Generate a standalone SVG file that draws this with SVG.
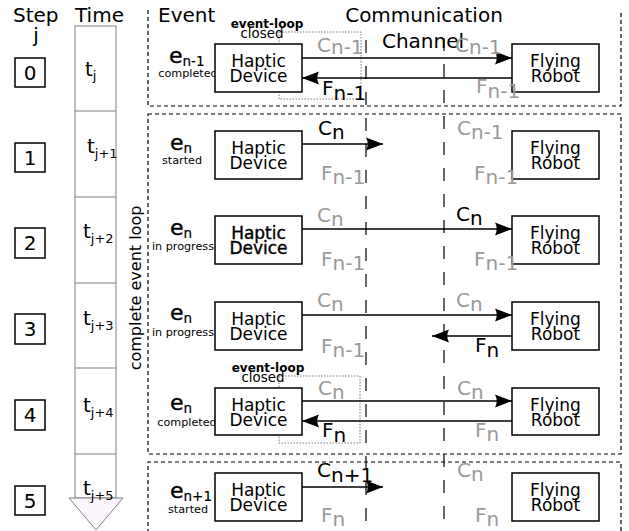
<svg xmlns="http://www.w3.org/2000/svg" width="629" height="531" viewBox="0 0 629 531">
<defs>
<style>
text{font-family:"DejaVu Sans","Liberation Sans",sans-serif;fill:#000}
.h{font-size:20px}
.lbl{font-size:20px}
.g{fill:#999}
.box{fill:#fff;stroke:#000;stroke-width:1.5}
.bt{font-size:17px;text-anchor:middle}
.ev{font-size:22px;stroke:#000;stroke-width:0.4}
.evs{font-size:13.5px;stroke-width:0.2}
.sm{font-size:11.2px;text-anchor:middle}
.tl{font-size:20px}
.tls{font-size:13px}
.frame{fill:none;stroke:#000;stroke-width:1.2;stroke-dasharray:4 3}
.chan{fill:none;stroke:#000;stroke-width:1.2;stroke-dasharray:13 13}
.arr{fill:none;stroke:#000;stroke-width:1.5;marker-end:url(#ah)}
.dot{fill:none;stroke:#777;stroke-width:1;stroke-dasharray:1.5 1.5}
.step{fill:#fff;stroke:#000;stroke-width:1.5}
</style>
<marker id="ah" markerUnits="userSpaceOnUse" markerWidth="20" markerHeight="16" viewBox="-18 -8 20 16" refX="0" refY="0" orient="auto">
<path d="M0,0 L-17,-6.5 Q-13.5,0 -17,6.5 Z" fill="#000"/>
</marker>
</defs>

<!-- headers -->
<g id="headers">
<text class="h" x="13" y="22">Step</text>
<text class="h" x="36" y="42" text-anchor="middle">j</text>
<text class="h" x="75" y="22">Time</text>
<text class="h" x="158" y="22">Event</text>
<text class="h" x="424" y="22" text-anchor="middle">Communication</text>
<text class="h" x="423" y="48" text-anchor="middle">Channel</text>
</g>

<!-- frames -->
<g id="frames">
<path class="frame" d="M148,10 V106 H621 V10"/>
<rect class="frame" x="148" y="114" width="473" height="340"/>
<path class="frame" d="M148,540 V462 H621 V540"/>
</g>

<!-- channel lines -->
<g id="channel">
<line class="chan" x1="366" y1="40" x2="366" y2="531"/>
<line class="chan" x1="444" y1="38" x2="444" y2="531"/>
</g>

<!-- time column -->
<g id="time">
<rect x="75" y="26" width="41" height="472" fill="#fff" stroke="#808080" stroke-width="1"/>
<g stroke="#808080" stroke-width="1">
<line x1="75" y1="111" x2="116" y2="111"/>
<line x1="75" y1="197" x2="116" y2="197"/>
<line x1="75" y1="283" x2="116" y2="283"/>
<line x1="75" y1="368" x2="116" y2="368"/>
<line x1="75" y1="454" x2="116" y2="454"/>
</g>
<polygon points="69,498 123,498 96,530" fill="#fdf5fc" stroke="#808080" stroke-width="1"/>
<text class="tl" x="85" y="76">t<tspan class="tls" dy="4">j</tspan></text>
<text class="tl" x="87" y="153">t<tspan class="tls" dy="5">j+1</tspan></text>
<text class="tl" x="83" y="238">t<tspan class="tls" dy="5">j+2</tspan></text>
<text class="tl" x="83" y="325">t<tspan class="tls" dy="5">j+3</tspan></text>
<text class="tl" x="83" y="412">t<tspan class="tls" dy="5">j+4</tspan></text>
<text class="tl" x="83" y="495">t<tspan class="tls" dy="5">j+5</tspan></text>
</g>

<text transform="translate(141,288) rotate(-90)" text-anchor="middle" font-size="16">complete event loop</text>

<!-- steps -->
<g id="step0"><rect class="step" x="15" y="58" width="30" height="29"/><text class="h" x="30" y="80" text-anchor="middle">0</text></g>
<g id="step1"><rect class="step" x="15" y="143" width="30" height="29"/><text class="h" x="30" y="165" text-anchor="middle">1</text></g>
<g id="step2"><rect class="step" x="15" y="228" width="30" height="30"/><text class="h" x="30" y="250" text-anchor="middle">2</text></g>
<g id="step3"><rect class="step" x="15" y="314" width="30" height="30"/><text class="h" x="30" y="336" text-anchor="middle">3</text></g>
<g id="step4"><rect class="step" x="15" y="400" width="30" height="30"/><text class="h" x="30" y="422" text-anchor="middle">4</text></g>
<g id="step5"><rect class="step" x="15" y="486" width="30" height="29"/><text class="h" x="30" y="508" text-anchor="middle">5</text></g>

<!-- event labels -->
<g id="event0"><text class="ev" x="169" y="63">e<tspan class="evs" dy="3">n-1</tspan></text><text class="sm" x="188" y="77">completed</text></g>
<g id="event1"><text class="ev" x="170" y="150">e<tspan class="evs" dy="3">n</tspan></text><text class="sm" x="182" y="164">started</text></g>
<g id="event2"><text class="ev" x="170" y="235">e<tspan class="evs" dy="3">n</tspan></text><text class="sm" x="183" y="250">in progress</text></g>
<g id="event3"><text class="ev" x="170" y="320">e<tspan class="evs" dy="3">n</tspan></text><text class="sm" x="183" y="336">in progress</text></g>
<g id="event4"><text class="ev" x="170" y="410">e<tspan class="evs" dy="3">n</tspan></text><text class="sm" x="187" y="426">completed</text></g>
<g id="event5"><text class="ev" x="170" y="498">e<tspan class="evs" dy="3">n+1</tspan></text><text class="sm" x="188" y="513">started</text></g>

<!-- event-loop closed markers -->
<g id="loop0"><rect class="dot" x="279" y="32" width="82" height="67"/><text x="267" y="28" font-size="12" font-weight="bold" text-anchor="middle">event-loop</text><text x="262" y="38" font-size="13.4" text-anchor="middle">closed</text></g>
<g id="loop4"><rect class="dot" x="279" y="376" width="81" height="67"/><text x="268" y="372" font-size="12" font-weight="bold" text-anchor="middle">event-loop</text><text x="263" y="382" font-size="13.4" text-anchor="middle">closed</text></g>

<!-- haptic devices -->
<g id="haptic0"><rect class="box" x="215" y="44" width="87" height="48"/><text class="bt" x="258.5" y="67">Haptic</text><text class="bt" x="258.5" y="82">Device</text></g>
<g id="haptic1"><rect class="box" x="215" y="131" width="87" height="48"/><text class="bt" x="258.5" y="154">Haptic</text><text class="bt" x="258.5" y="169">Device</text></g>
<g id="haptic2"><rect class="box" x="215" y="216" width="87" height="48"/><text class="bt" x="258.5" y="239" stroke="#000" stroke-width="0.4">Haptic</text><text class="bt" x="258.5" y="254" stroke="#000" stroke-width="0.4">Device</text></g>
<g id="haptic3"><rect class="box" x="215" y="302" width="87" height="48"/><text class="bt" x="258.5" y="325">Haptic</text><text class="bt" x="258.5" y="340">Device</text></g>
<g id="haptic4"><rect class="box" x="215" y="388" width="87" height="47"/><text class="bt" x="258.5" y="411">Haptic</text><text class="bt" x="258.5" y="426">Device</text></g>
<g id="haptic5"><rect class="box" x="215" y="473" width="87" height="48"/><text class="bt" x="258.5" y="496">Haptic</text><text class="bt" x="258.5" y="511">Device</text></g>

<!-- flying robots -->
<g id="robot0"><rect class="box" x="512" y="44" width="87" height="48"/><text class="bt" x="555.5" y="67">Flying</text><text class="bt" x="555.5" y="82">Robot</text></g>
<g id="robot1"><rect class="box" x="512" y="131" width="87" height="48"/><text class="bt" x="555.5" y="154">Flying</text><text class="bt" x="555.5" y="169">Robot</text></g>
<g id="robot2"><rect class="box" x="512" y="216" width="87" height="48"/><text class="bt" x="555.5" y="239">Flying</text><text class="bt" x="555.5" y="254">Robot</text></g>
<g id="robot3"><rect class="box" x="512" y="302" width="87" height="48"/><text class="bt" x="555.5" y="325">Flying</text><text class="bt" x="555.5" y="340">Robot</text></g>
<g id="robot4"><rect class="box" x="512" y="388" width="87" height="47"/><text class="bt" x="555.5" y="411">Flying</text><text class="bt" x="555.5" y="426">Robot</text></g>
<g id="robot5"><rect class="box" x="512" y="473" width="87" height="48"/><text class="bt" x="555.5" y="496">Flying</text><text class="bt" x="555.5" y="511">Robot</text></g>

<!-- connectors -->
<g id="connectors">
<line class="arr" x1="302" y1="58" x2="512" y2="58"/>
<line class="arr" x1="512" y1="78" x2="302" y2="78"/>
<line class="arr" x1="302" y1="144" x2="383" y2="144"/>
<line class="arr" x1="302" y1="229" x2="512" y2="229"/>
<line class="arr" x1="302" y1="315" x2="512" y2="315"/>
<line class="arr" x1="512" y1="336" x2="432" y2="336"/>
<line class="arr" x1="302" y1="401" x2="512" y2="401"/>
<line class="arr" x1="512" y1="421" x2="302" y2="421"/>
<line class="arr" x1="302" y1="487" x2="383" y2="487"/>
</g>

<!-- message labels -->
<g id="labels">
<text class="lbl g" x="317" y="52">C<tspan dy="2">n-1</tspan></text>
<text class="lbl" x="322" y="95">F<tspan dy="5">n-1</tspan></text>
<text class="lbl g" x="455" y="52">C<tspan dy="2">n-1</tspan></text>
<text class="lbl g" x="476" y="93">F<tspan dy="5">n-1</tspan></text>

<text class="lbl" x="318" y="135">C<tspan dy="4">n</tspan></text>
<text class="lbl g" x="457" y="135">C<tspan dy="4">n-1</tspan></text>
<text class="lbl g" x="321" y="180">F<tspan dy="4">n-1</tspan></text>
<text class="lbl g" x="474" y="180">F<tspan dy="4">n-1</tspan></text>

<text class="lbl g" x="317" y="222">C<tspan dy="4">n</tspan></text>
<text class="lbl" x="456" y="221">C<tspan dy="4">n</tspan></text>
<text class="lbl g" x="321" y="266">F<tspan dy="4">n-1</tspan></text>
<text class="lbl g" x="474" y="266">F<tspan dy="4">n-1</tspan></text>

<text class="lbl g" x="317" y="307">C<tspan dy="4">n</tspan></text>
<text class="lbl g" x="456" y="307">C<tspan dy="4">n</tspan></text>
<text class="lbl g" x="321" y="353">F<tspan dy="4">n-1</tspan></text>
<text class="lbl" x="475" y="352">F<tspan dy="5">n</tspan></text>

<text class="lbl g" x="318" y="395">C<tspan dy="4">n</tspan></text>
<text class="lbl g" x="457" y="395">C<tspan dy="4">n</tspan></text>
<text class="lbl" x="322" y="437">F<tspan dy="5">n</tspan></text>
<text class="lbl g" x="475" y="437">F<tspan dy="4">n</tspan></text>

<text class="lbl" x="317" y="477">C<tspan dy="5">n+1</tspan></text>
<text class="lbl g" x="457" y="477">C<tspan dy="4">n</tspan></text>
<text class="lbl g" x="321" y="522">F<tspan dy="4">n</tspan></text>
<text class="lbl g" x="475" y="522">F<tspan dy="4">n</tspan></text>
</g>
</svg>
